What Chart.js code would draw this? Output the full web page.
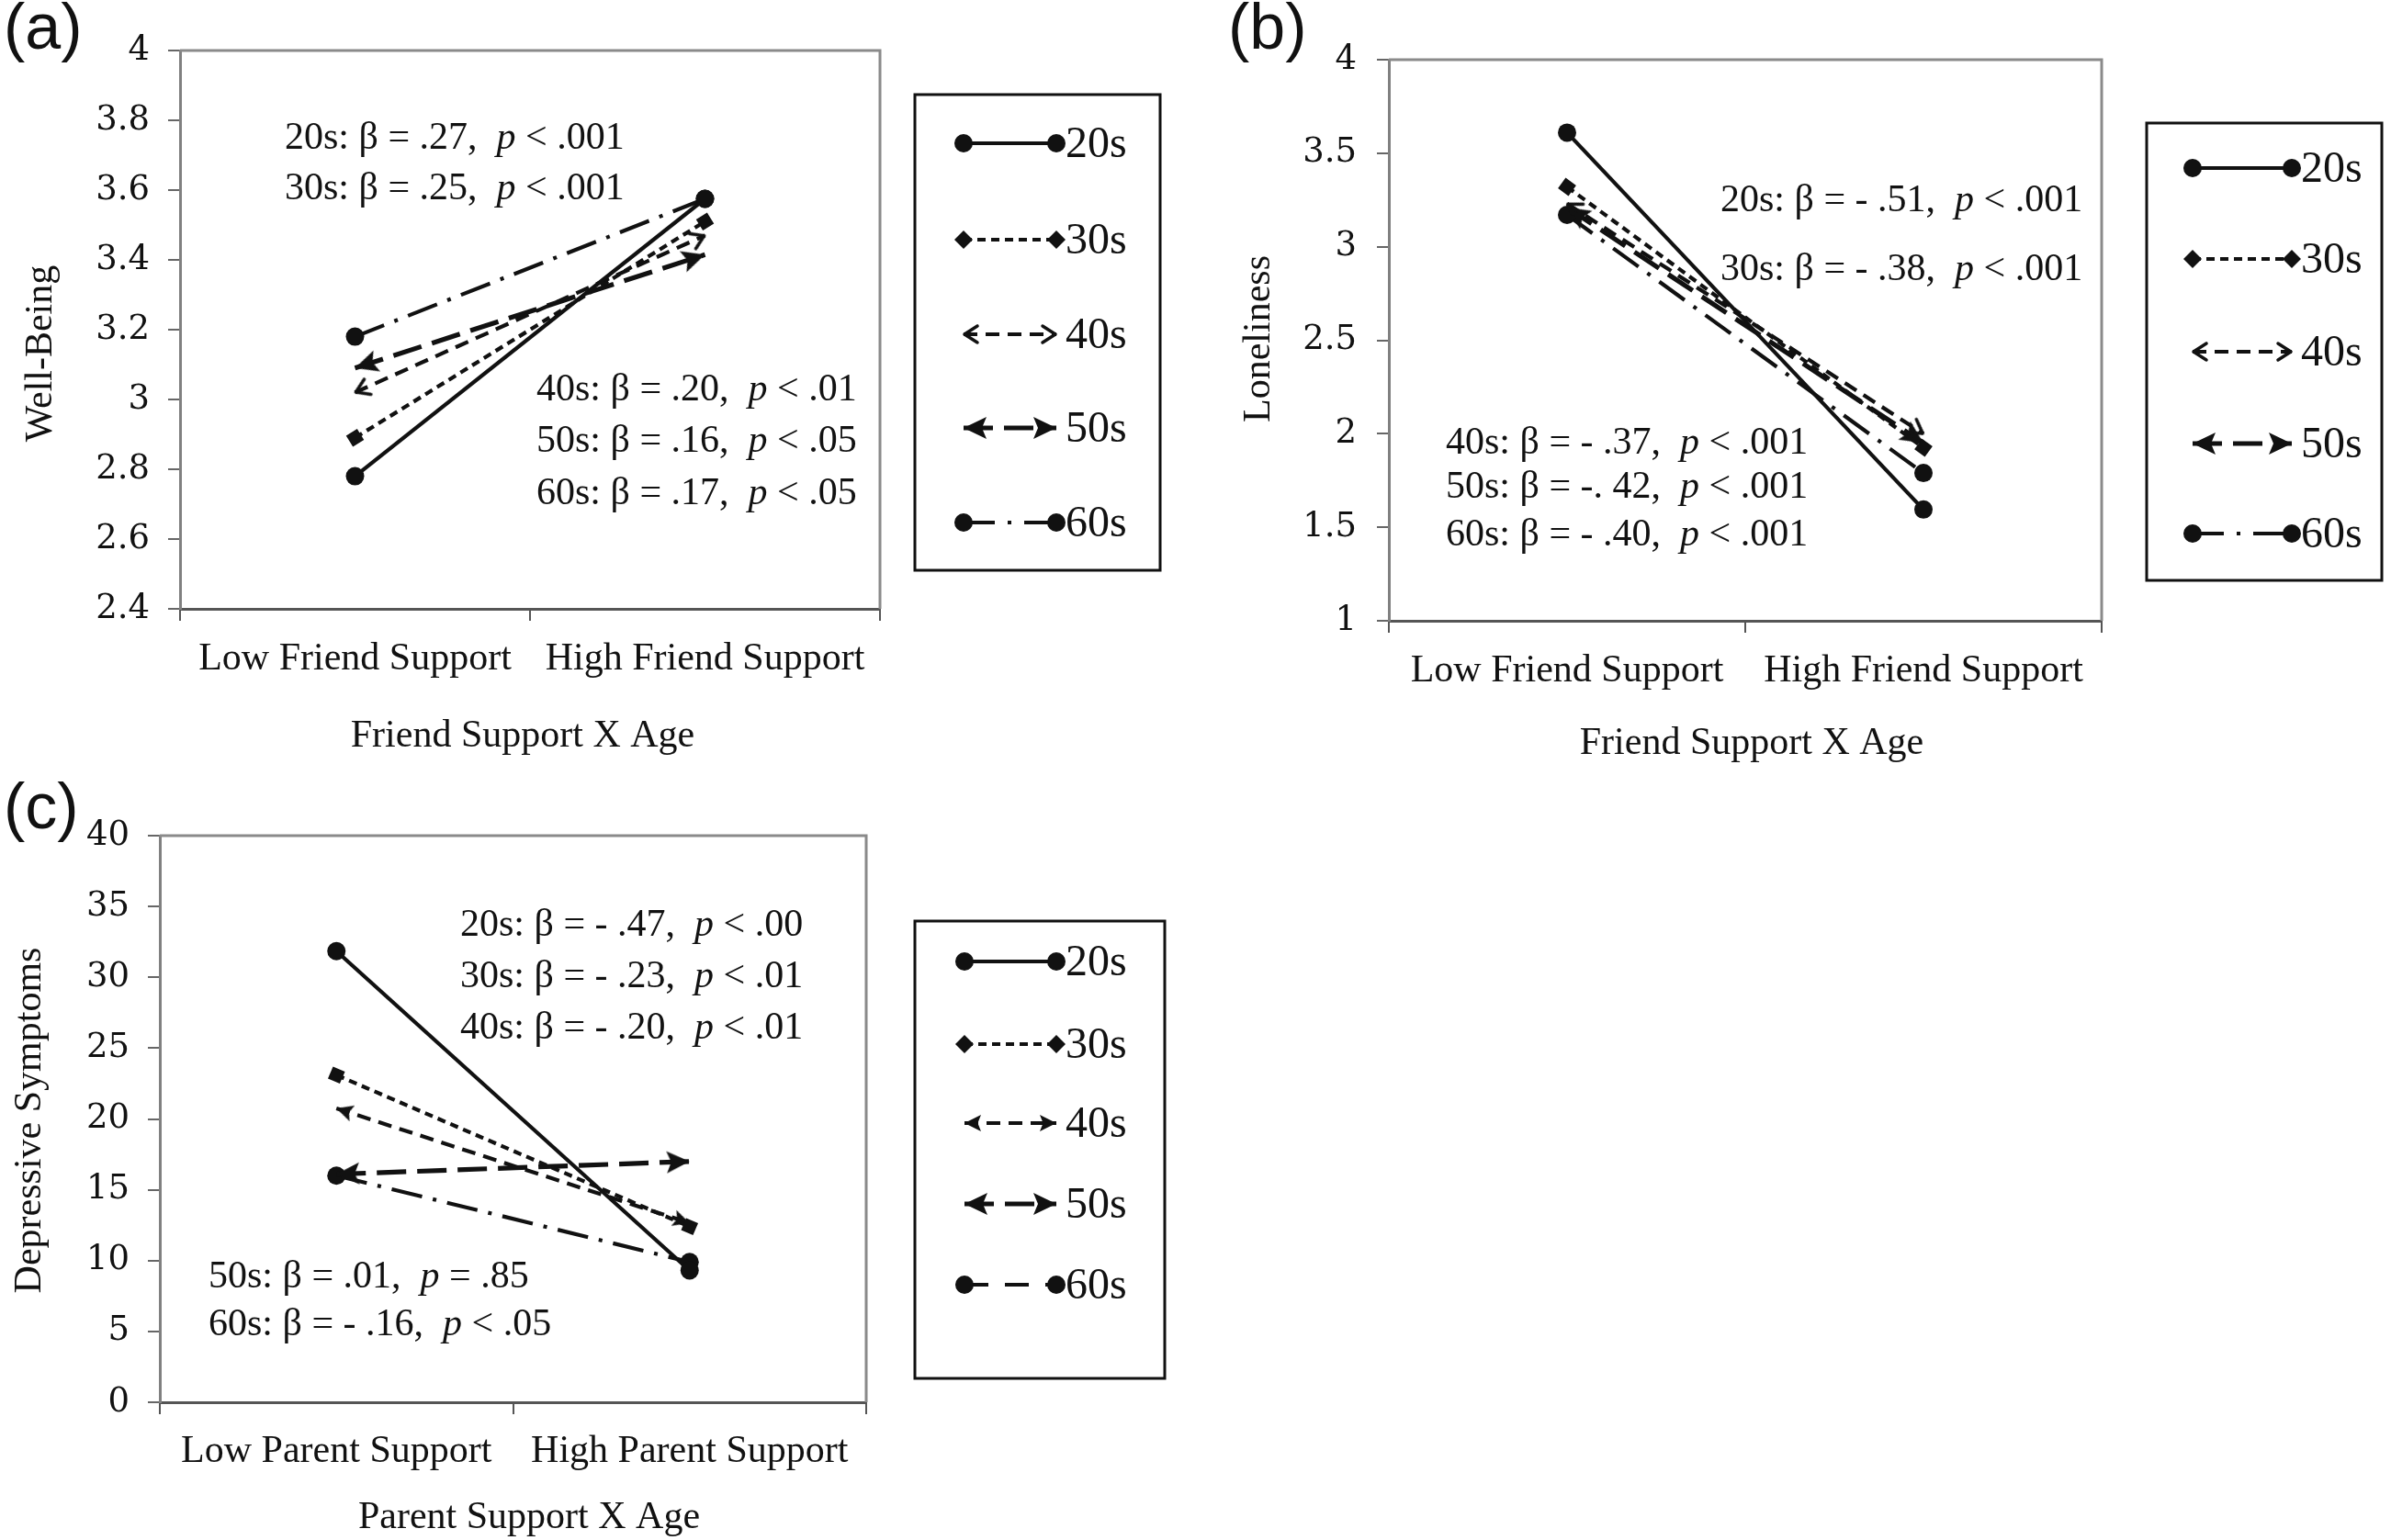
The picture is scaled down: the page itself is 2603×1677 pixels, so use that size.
<!DOCTYPE html>
<html><head><meta charset="utf-8">
<script src="https://cdn.jsdelivr.net/npm/chart.js@4.4.1/dist/chart.umd.min.js"></script>
<style>
html,body{margin:0;padding:0;background:#fff;}
#wrap{position:relative;width:2603px;height:1677px;background:#fff;overflow:hidden;}
canvas{position:absolute;left:0;top:0;}
.plbl{position:absolute;font-family:"Liberation Sans",Arial,sans-serif;font-size:70px;color:#111;line-height:1;}
</style></head>
<body><div id="wrap">
<canvas id="ca" width="2603" height="1677" style="width:2603px;height:1677px"></canvas>
<canvas id="cb" width="2603" height="1677" style="width:2603px;height:1677px"></canvas>
<canvas id="cc" width="2603" height="1677" style="width:2603px;height:1677px"></canvas>
<div class="plbl" style="left:4px;top:-6px">(a)</div>
<div class="plbl" style="left:1337px;top:-6px">(b)</div>
<div class="plbl" style="left:4px;top:843px">(c)</div>
</div>
<script>
// ---------------- DATA ----------------
const ageGroups = ['20s', '30s', '40s', '50s', '60s'];

const friendCategories = ['Low Friend Support', 'High Friend Support'];
const parentCategories = ['Low Parent Support', 'High Parent Support'];

// (a) Well-Being by Friend Support X Age
const wellBeing20s = [2.78, 3.575];
const wellBeing30s = [2.89, 3.51];
const wellBeing40s = [3.02, 3.47];
const wellBeing50s = [3.09, 3.415];
const wellBeing60s = [3.18, 3.575];

// (b) Loneliness by Friend Support X Age
const loneliness20s = [3.61, 1.595];
const loneliness30s = [3.32, 1.925];
const loneliness40s = [3.23, 2.0];
const loneliness50s = [3.21, 1.95];
const loneliness60s = [3.17, 1.79];

// (c) Depressive Symptoms by Parent Support X Age
const depressive20s = [31.85, 9.3];
const depressive30s = [23.1, 12.4];
const depressive40s = [20.75, 12.65];
const depressive50s = [16.1, 17.0];
const depressive60s = [16.0, 9.9];

// axis ranges / ticks
const wellBeingTicks = {min: 2.4, max: 4, step: 0.2};
const lonelinessTicks = {min: 1, max: 4, step: 0.5};
const depressiveTicks = {min: 0, max: 40, step: 5};

// axis titles
const titleWellBeing = 'Well-Being';
const titleLoneliness = 'Loneliness';
const titleDepressive = 'Depressive Symptoms';
const titleFriendAge = 'Friend Support X Age';
const titleParentAge = 'Parent Support X Age';

// annotation texts
const notesA1 = ['20s: β = .27,  p < .001', '30s: β = .25,  p < .001'];
const notesA2 = ['40s: β = .20,  p < .01', '50s: β = .16,  p < .05', '60s: β = .17,  p < .05'];
const notesB1 = ['20s: β = - .51,  p < .001', '30s: β = - .38,  p < .001'];
const notesB2 = ['40s: β = - .37,  p < .001', '50s: β = -. 42,  p < .001', '60s: β = - .40,  p < .001'];
const notesC1 = ['20s: β = - .47,  p < .00', '30s: β = - .23,  p < .01', '40s: β = - .20,  p < .01'];
const notesC2 = ['50s: β = .01,  p = .85', '60s: β = - .16,  p < .05'];

// ---------------- STYLE / HELPERS ----------------
const INK = '#111';
const SERIF = '"Liberation Serif","Times New Roman",serif';
const TICKFONT = '"DejaVu Serif","Liberation Serif",serif';

function arrowImg(len, half, filled, lw) {
  const s = Math.ceil(len * 2 + 8);
  const c = document.createElement('canvas');
  c.width = s; c.height = s;
  const g = c.getContext('2d');
  const cx = s / 2, cy = s / 2;
  g.fillStyle = INK; g.strokeStyle = INK; g.lineWidth = lw; g.lineCap = 'round'; g.lineJoin = 'round';
  g.beginPath();
  if (filled) {
    g.moveTo(cx, cy); g.lineTo(cx - len, cy - half); g.lineTo(cx - len * 0.8, cy); g.lineTo(cx - len, cy + half); g.closePath(); g.fill();
  } else {
    g.moveTo(cx - len, cy - half); g.lineTo(cx - 1, cy); g.lineTo(cx - len, cy + half); g.stroke();
  }
  return c;
}
const chevron = arrowImg(15, 9, false, 3.5);
const smallTri = arrowImg(18, 9, true, 1);
const bigTri = arrowImg(25, 12, true, 1);

function outwardAngle(ctx) {
  const ch = ctx.chart, ds = ctx.dataset, i = ctx.dataIndex;
  const xs = ch.scales.x, ys = ch.scales.y;
  if (!xs || !ys || !ds || ds.data.length < 2 || i === undefined) return 0;
  const j = i === 0 ? 1 : 0;
  const x0 = xs.getPixelForValue(i), y0 = ys.getPixelForValue(ds.data[i]);
  const x1 = xs.getPixelForValue(j), y1 = ys.getPixelForValue(ds.data[j]);
  if (!isFinite(x0) || !isFinite(y0) || !isFinite(x1) || !isFinite(y1)) return 0;
  return Math.atan2(y0 - y1, x0 - x1) * 180 / Math.PI;
}

function makeDatasets(series, variant) {
  const styles = [
    {dash: [], w: 4.2, ps: 'circle', r: 10, lps: 'circle'},
    {dash: [9, 6], w: 4.2, ps: 'rect', r: 10, lps: 'rectRot'},
    {dash: [15, 9], w: 4.2, ps: variant === 'c' ? smallTri : chevron, r: 10, lps: variant === 'c' ? smallTri : chevron},
    {dash: [32, 12], w: 5.2, ps: bigTri, r: 10, lps: bigTri},
    {dash: [34, 12, 4, 12], w: 4.2, ps: 'circle', r: 10, lps: 'circle', legendDash: variant === 'c' ? [26, 18] : [34, 14, 4, 14]}
  ];
  return series.map((vals, k) => ({
    label: ageGroups[k],
    data: vals,
    borderColor: INK,
    backgroundColor: INK,
    borderWidth: styles[k].w,
    borderDash: styles[k].dash,
    pointStyle: styles[k].ps,
    pointRadius: styles[k].r,
    pointBorderWidth: 0,
    pointBackgroundColor: INK,
    pointBorderColor: INK,
    pointRotation: (ctx) => (k === 0 || k === 4) ? 0 : outwardAngle(ctx),
    legendPointStyle: styles[k].lps,
    legendDash: styles[k].legendDash || styles[k].dash,
    tension: 0,
    fill: false
  }));
}

const frameBox = {
  id: 'frameBox',
  afterDraw(chart) {
    const a = chart.chartArea, c = chart.ctx;
    c.save();
    c.strokeStyle = '#8a8a8a'; c.lineWidth = 3;
    c.beginPath();
    c.moveTo(a.left, a.top); c.lineTo(a.right, a.top); c.lineTo(a.right, a.bottom);
    c.stroke();
    c.restore();
  }
};

const axisTitles = {
  id: 'axisTitles',
  afterDraw(chart, args, o) {
    const c = chart.ctx;
    c.save();
    c.fillStyle = INK; c.textAlign = 'center'; c.textBaseline = 'middle';
    c.font = o.size + 'px ' + SERIF;
    c.fillText(o.x.text, o.x.cx, o.x.cy);
    c.translate(o.y.cx, o.y.cy);
    c.rotate(-Math.PI / 2);
    c.fillText(o.y.text, 0, 0);
    c.restore();
  }
};

const notesPlugin = {
  id: 'notes',
  afterDatasetsDraw(chart, args, opts) {
    const c = chart.ctx;
    c.save();
    c.fillStyle = INK; c.textBaseline = 'middle'; c.textAlign = 'left';
    (opts.items || []).forEach(it => {
      const idx = it.text.indexOf('p');
      const parts = [[it.text.slice(0, idx), false], ['p', true], [it.text.slice(idx + 1), false]];
      let x = it.x;
      parts.forEach(([t, ital]) => {
        c.font = (ital ? 'italic ' : '') + opts.size + 'px ' + SERIF;
        c.fillText(t, x, it.y);
        x += c.measureText(t).width;
      });
    });
    c.restore();
  }
};

const lineLegend = {
  id: 'lineLegend',
  afterDraw(chart, args, o) {
    if (!o || !o.box) return;
    const c = chart.ctx;
    c.save();
    c.strokeStyle = INK; c.lineWidth = 3;
    c.strokeRect(o.box[0], o.box[1], o.box[2], o.box[3]);
    chart.data.datasets.forEach((ds, i) => {
      const y = o.ys[i];
      c.save();
      c.strokeStyle = INK; c.lineWidth = ds.borderWidth;
      c.setLineDash(ds.legendDash || []);
      c.beginPath(); c.moveTo(o.x1, y); c.lineTo(o.x2, y); c.stroke();
      c.restore();
      const st = ds.legendPointStyle;
      const isImg = typeof st === 'object';
      c.fillStyle = INK; c.strokeStyle = INK;
      Chart.helpers.drawPoint(c, {pointStyle: st, rotation: isImg ? 180 : 0, radius: ds.pointRadius, borderWidth: 0}, o.x1, y);
      Chart.helpers.drawPoint(c, {pointStyle: st, rotation: 0, radius: ds.pointRadius, borderWidth: 0}, o.x2, y);
      c.font = o.size + 'px ' + SERIF;
      c.textBaseline = 'middle'; c.textAlign = 'left';
      c.fillText(ds.label, o.lx, y + 2);
    });
    c.restore();
  }
};

function fmtTick(v) { return String(Math.round(v * 100) / 100); }

function buildChart(id, cfg) {
  return new Chart(document.getElementById(id), {
    type: 'line',
    data: {labels: cfg.labels, datasets: makeDatasets(cfg.series, cfg.variant)},
    options: {
      responsive: false,
      animation: false,
      events: [],
      layout: {padding: cfg.padding},
      plugins: {
        legend: {display: false},
        tooltip: {enabled: false},
        notes: {size: 42, items: cfg.notes},
        lineLegend: cfg.legend,
        axisTitles: cfg.titles
      },
      scales: {
        x: {
          type: 'category',
          offset: true,
          grid: {offset: true, drawOnChartArea: false, tickLength: 13, color: '#555', lineWidth: 2},
          border: {color: '#555', width: 3},
          ticks: {color: INK, font: {family: SERIF, size: 42}, padding: cfg.xPad, maxRotation: 0, autoSkip: false},
          title: {display: false},
          afterFit(s) { s.height = cfg.xH; }
        },
        y: {
          min: cfg.ticks.min, max: cfg.ticks.max,
          grid: {drawOnChartArea: false, tickLength: 13, color: '#666', lineWidth: 2},
          border: {color: '#808080', width: 3},
          ticks: {stepSize: cfg.ticks.step, color: INK, font: {family: TICKFONT, size: 37}, padding: cfg.yPad, callback: fmtTick},
          title: {display: false},
          afterFit(s) { s.width = cfg.yW; }
        }
      }
    },
    plugins: [frameBox, notesPlugin, lineLegend, axisTitles]
  });
}

buildChart('ca', {
  labels: friendCategories, variant: 'a',
  series: [wellBeing20s, wellBeing30s, wellBeing40s, wellBeing50s, wellBeing60s],
  ticks: wellBeingTicks,
  titles: {size: 42, y: {text: titleWellBeing, cx: 45, cy: 385}, x: {text: titleFriendAge, cx: 569, cy: 802}},
  padding: {left: 20, top: 55, right: 1645, bottom: 864}, yW: 176, xH: 150, xPad: 17, yPad: 20,
  notes: [
    {text: notesA1[0], x: 310, y: 151}, {text: notesA1[1], x: 310, y: 206},
    {text: notesA2[0], x: 584, y: 425}, {text: notesA2[1], x: 584, y: 481}, {text: notesA2[2], x: 584, y: 538}
  ],
  legend: {box: [996, 103, 267, 518], x1: 1049, x2: 1150, lx: 1160, size: 48, ys: [156, 261, 364, 466, 569]}
});

buildChart('cb', {
  labels: friendCategories, variant: 'b',
  series: [loneliness20s, loneliness30s, loneliness40s, loneliness50s, loneliness60s],
  ticks: lonelinessTicks,
  titles: {size: 42, y: {text: titleLoneliness, cx: 1371, cy: 369}, x: {text: titleFriendAge, cx: 1907, cy: 810}},
  padding: {left: 1347, top: 65, right: 315, bottom: 851}, yW: 165, xH: 150, xPad: 17, yPad: 22,
  notes: [
    {text: notesB1[0], x: 1873, y: 219}, {text: notesB1[1], x: 1873, y: 294},
    {text: notesB2[0], x: 1574, y: 483}, {text: notesB2[1], x: 1574, y: 531}, {text: notesB2[2], x: 1574, y: 583}
  ],
  legend: {box: [2337, 134, 256, 498], x1: 2387, x2: 2495, lx: 2505, size: 48, ys: [183, 282, 383, 483, 581]}
});

buildChart('cc', {
  labels: parentCategories, variant: 'c',
  series: [depressive20s, depressive30s, depressive40s, depressive50s, depressive60s],
  ticks: depressiveTicks,
  titles: {size: 42, y: {text: titleDepressive, cx: 33, cy: 1220}, x: {text: titleParentAge, cx: 576, cy: 1653}},
  padding: {left: 8, top: 910, right: 1660, bottom: 0}, yW: 166, xH: 150, xPad: 16, yPad: 20,
  notes: [
    {text: notesC1[0], x: 501, y: 1008}, {text: notesC1[1], x: 501, y: 1064}, {text: notesC1[2], x: 501, y: 1120},
    {text: notesC2[0], x: 227, y: 1391}, {text: notesC2[1], x: 227, y: 1443}
  ],
  legend: {box: [996, 1003, 272, 498], x1: 1050, x2: 1150, lx: 1160, size: 48, ys: [1047, 1137, 1223, 1311, 1399]}
});
</script>
</body></html>
